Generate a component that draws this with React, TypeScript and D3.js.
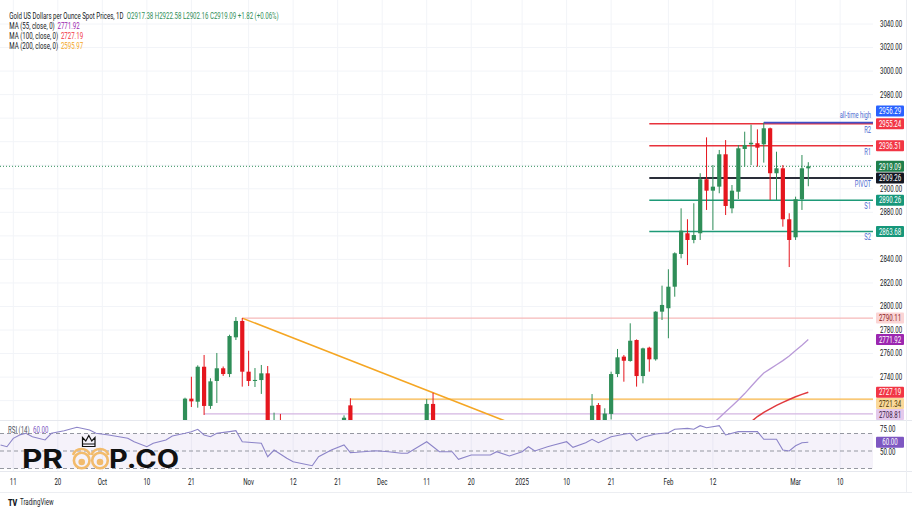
import React from "react";
import * as d3 from "d3";

// ---------- DATA ----------
const cIdx = [27,28,29,30,31,32,33,34,35,36,37,38,39,40,41,42,52,53,65,66,91,92,93,94,95,96,97,98,99,100,101,102,103,104,105,106,107,108,109,110,111,112,113,114,115,116,117,118,119,120,121,122,123,124,125];
const cOpen = [2693,2721.7,2719.1,2748.8,2715.5,2736.7,2747.5,2742.6,2773.8,2787.7,2744.6,2736.7,2737.5,2743.2,2660,2702,2672,2716,2695,2717.2,2697,2716.3,2702,2708.7,2742.6,2757.4,2753.7,2771.5,2740.9,2765,2755.1,2795.6,2798.5,2816.8,2844.6,2862.2,2856.5,2862.2,2908.1,2898.4,2901.8,2929.3,2883.4,2897.5,2933.8,2937.8,2938.7,2937.8,2951.4,2913.2,2917.4,2874.1,2858.8,2891.1,2917.38];
const cHigh = [2722.5,2740.3,2750,2758.8,2739,2760.5,2749,2776,2791,2790.2,2762.4,2747.7,2750.3,2749.4,2709.8,2708.7,2707.5,2722,2721.3,2726.7,2725.6,2718,2713.5,2744.6,2763.9,2758.8,2785.7,2772,2765,2765.8,2796,2817.7,2831.6,2846,2883.4,2874.1,2887.7,2913.2,2943.7,2920.2,2933,2941.4,2903.2,2937.2,2948.5,2954.5,2950.5,2956.29,2952,2931.5,2920.2,2879.2,2893.3,2928.7,2922.58];
const cLow = [2689,2714.6,2714,2707.8,2713,2718,2741,2740,2771.5,2731.9,2732.4,2731.6,2725.7,2652,2654,2680,2667,2605,2690,2676,2689,2697,2699,2704,2740,2736.1,2753.1,2731.9,2734.7,2744.6,2754,2788.5,2773,2808.3,2840.9,2835.2,2853.7,2856.5,2882,2865,2896.2,2877.7,2879.2,2891.3,2918.8,2920.2,2918.8,2922.2,2890.5,2890.5,2867.8,2833.5,2856.5,2882,2902.16];
const cClose = [2721.7,2719.4,2748.8,2715.5,2736.4,2747.5,2742.6,2774.9,2787.7,2744.6,2736.7,2737.6,2743.2,2660,2685,2684,2705.5,2626,2717.2,2680,2715.7,2701,2709,2742.6,2756.8,2753.9,2770.9,2740.9,2764.4,2755.1,2795.6,2801.3,2816.8,2845.2,2864.4,2856.5,2860.7,2908.1,2898.4,2901.8,2929.3,2885.4,2898.4,2934.4,2937.2,2939.1,2934.9,2951.4,2913.2,2917.4,2874.1,2856.5,2891.1,2917.4,2919.09];

const ma55Idx = [110,111,112,113,114,115,116,117,118,119,120,121,122,123,124,125];
const ma55Val = [2700.5,2705.5,2710.5,2715.5,2720.5,2726,2732,2738,2743.5,2747,2750.5,2754,2758,2762.5,2767,2771.92];
const ma100Idx = [116,117,118,119,120,121,122,123,124,125];
const ma100Val = [2702,2706.5,2710,2713,2716,2718.5,2721,2723.3,2725.3,2727.19];

const rsiIdx = [-2,-1,0,1,2,3,5,6,8,10,12,13,15,18,19,21,22,24,25,27,28,29,30,31,32,34,35,36,38,39,40,41,43,44,47,48,50,52,53,54,57,59,61,62,65,67,69,70,72,73,75,76,78,80,81,82,84,85,87,88,90,91,92,94,96,97,98,99,101,103,104,106,107,108,109,111,112,114,116,117,118,120,121,122,123,124,125];
const rsiVal = [56.9,54.9,64.5,68.3,70.2,66.3,62.6,70.2,73.2,77.1,74,70.2,68.3,64.5,60.6,54.9,58.8,62.6,67.1,70.2,72.1,74.8,68.3,66.3,70.2,72.1,73.2,60.6,59.5,58.8,43.5,51.1,41.7,37.8,33.2,43.5,51.1,56.9,48.1,48.5,50.3,49.2,47.4,47.4,60.6,49.2,49.2,40.5,45.4,45.4,45.4,49.2,44.3,49.2,54.9,50,54.9,56.9,60.6,54.2,59.5,63.4,59.5,66.3,69.1,70.2,61.8,65.7,69.4,70.9,74.8,75.9,74.8,78.9,76.6,78.9,68.3,72.1,72.1,72.1,63.4,63.4,51.1,50,56,59.5,60];

const tickIdx = [0,7,14,21,28,37,44,51,58,65,72,80,87,94,103,110,123,130];
const tickLabels = ["11","20","Oct","10","21","Nov","12","21","Dec","11","20","2025","10","21","Feb","12","Mar","10"];
const priceTicks = [2720,2740,2760,2780,2800,2820,2840,2860,2880,2900,2920,2940,2960,2980,3000,3020,3040];

const levelNames = ["R2","R1","PIVOT","S1","S2"];
const levelValues = [2955.24,2936.51,2909.26,2890.26,2863.68];
const levelColors = ["#e8323c","#e8323c","#2a2e39","#1e9a78","#1e9a78"];
const levelStart = 100;
const athValue = 2956.29;
const athStart = 118;
const lastPrice = 2919.09;
const pinkLevel = { start: 36, value: 2790.11 };
const orangeLevel = { start: 53, value: 2721.34 };
const lilacLevel = { start: 30, value: 2708.81 };
const trendA = { i: 36, v: 2790.11 };
const trendB = { i: 66, v: 2726.7 };

// ---------- LAYOUT ----------
const W = 912, H = 513;
const PR = 873; // pane right
const MAIN_B = 420;
const RSI_T = 421, RSI_B = 471;
const GREEN = "#2f8e58", RED = "#e5161e";
const SX = 0.68;

const x = d3.scaleLinear().domain([0, 125]).range([13.3, 808.3]);
const y = d3.scaleLinear().domain([2740, 3040]).range([377.1, 24]);
const yR = d3.scaleLinear().domain([30, 70]).range([468.5, 433.5]);

function T({ x, y, children, anchor = "start", size = 9, fill = "#131722", sx = SX, weight = 400 }: any) {
  return (
    <text transform={`translate(${x},${y}) scale(${sx},1)`} textAnchor={anchor} fontSize={size}
      fill={fill} fontWeight={weight} dominantBaseline="central" fontFamily="Roboto, 'Noto Sans', sans-serif">
      {children}
    </text>
  );
}

function Box({ cy, bg, fg, label }: any) {
  return (
    <g>
      <rect x={876} y={cy - 5.5} width={28} height={11} fill={bg} rx={1} />
      <T x={890} y={cy + 0.3} anchor="middle" fill={fg} size={9}>{label}</T>
    </g>
  );
}

export default function App() {
  const candles = cIdx.map((i, k) => ({ i, o: cOpen[k], h: cHigh[k], l: cLow[k], c: cClose[k] }));
  const ma55 = d3.line<number>().x((_, k) => x(ma55Idx[k])).y((d) => y(d))(ma55Val) || "";
  const ma100 = d3.line<number>().x((_, k) => x(ma100Idx[k])).y((d) => y(d))(ma100Val) || "";
  const rsiPath = d3.line<number>().x((_, k) => x(rsiIdx[k])).y((d) => yR(d))(rsiVal) || "";
  const slope = (trendB.v - trendA.v) / (trendB.i - trendA.i);
  const trendEndI = 82;
  const bw = 4.2;

  const boxCenters = [111, 123.8, y(2936.51), y(lastPrice), y(2909.26), y(2890.26), y(2863.68), y(2790.11), y(2771.92), y(2727.19), 403.5, 414.5];
  const visibleTicks = priceTicks.filter((p) => boxCenters.every((c) => Math.abs(c - y(p)) > 9));

  return (
    <svg width={W} height={H} style={{ position: "absolute", left: 0, top: 0, background: "#fff" }}
      xmlns="http://www.w3.org/2000/svg">
      <defs>
        <clipPath id="mainClip"><rect x={0} y={0} width={PR} height={MAIN_B} /></clipPath>
        <clipPath id="rsiClip"><rect x={0} y={RSI_T} width={PR} height={RSI_B - RSI_T} /></clipPath>
      </defs>
      <rect x={0} y={0} width={W} height={H} fill="#fff" />

      {/* grid */}
      {tickIdx.map((t, k) => (
        <line key={"vg" + k} x1={x(t)} x2={x(t)} y1={0} y2={RSI_B} stroke="#f2f4f8" strokeWidth={1} />
      ))}
      {priceTicks.map((p) => (
        <line key={"hg" + p} x1={0} x2={PR} y1={y(p)} y2={y(p)} stroke="#f2f4f8" strokeWidth={1} />
      ))}

      {/* main pane */}
      <g clipPath="url(#mainClip)">
        <line x1={x(pinkLevel.start)} x2={PR} y1={y(pinkLevel.value)} y2={y(pinkLevel.value)} stroke="#f6b9b9" strokeWidth={1.2} />
        <line x1={x(orangeLevel.start)} x2={PR} y1={y(orangeLevel.value)} y2={y(orangeLevel.value)} stroke="#f7b648" strokeWidth={1.3} />
        <line x1={x(lilacLevel.start)} x2={PR} y1={y(lilacLevel.value)} y2={y(lilacLevel.value)} stroke="#d4b6e2" strokeWidth={1.3} />
        <line x1={x(trendA.i)} y1={y(trendA.v)} x2={x(trendEndI)} y2={y(trendA.v + slope * (trendEndI - trendA.i))}
          stroke="#f5a623" strokeWidth={1.6} />
        <line x1={0} x2={PR} y1={y(lastPrice)} y2={y(lastPrice)} stroke="#2f8e58" strokeWidth={1} strokeDasharray="1,2" />
        {levelValues.map((v, k) => (
          <line key={"lv" + k} x1={x(levelStart)} x2={PR} y1={y(v)} y2={y(v)} stroke={levelColors[k]}
            strokeWidth={levelNames[k] === "PIVOT" ? 2 : 1.5} />
        ))}
        <line x1={x(athStart)} x2={PR} y1={y(athValue)} y2={y(athValue)} stroke="#3f51c8" strokeWidth={1.8} />

        <path d={ma55} fill="none" stroke="#b99ad8" strokeWidth={1.3} />
        <path d={ma100} fill="none" stroke="#e0393e" strokeWidth={1.5} />

        {candles.map((d) => {
          const col = d.c >= d.o ? GREEN : RED;
          const top = y(Math.max(d.o, d.c));
          const bot = y(Math.min(d.o, d.c));
          return (
            <g key={"c" + d.i}>
              <line x1={x(d.i)} x2={x(d.i)} y1={y(d.h)} y2={y(d.l)} stroke={col} strokeWidth={1} />
              <rect x={x(d.i) - bw / 2} y={top} width={bw} height={Math.max(1, bot - top)} fill={col} />
            </g>
          );
        })}
      </g>

      {/* level names */}
      <T x={871} y={115.5} anchor="end" fill="#4d6bd0" size={8.5}>all-time high</T>
      {levelNames.map((n, k) => (
        <T key={"ln" + k} x={871} y={y(levelValues[k]) + 6} anchor="end" fill="#4d6bd0" size={8.5}>{n}</T>
      ))}

      {/* pane separators */}
      <line x1={0} x2={W} y1={MAIN_B + 0.5} y2={MAIN_B + 0.5} stroke="#e6e8ee" />
      <line x1={0} x2={W} y1={RSI_B + 0.5} y2={RSI_B + 0.5} stroke="#e6e8ee" />
      <line x1={0} x2={W} y1={492.5} y2={492.5} stroke="#eceef2" />
      <line x1={906.5} x2={906.5} y1={0} y2={492} stroke="#eceef2" />

      {/* RSI pane */}
      <g clipPath="url(#rsiClip)">
        <rect x={0} y={yR(70)} width={PR} height={yR(30) - yR(70)} fill="#7e57c2" fillOpacity={0.08} />
        {[70, 50, 30].map((v) => (
          <line key={"rl" + v} x1={0} x2={PR} y1={yR(v)} y2={yR(v)} stroke="#9598a1" strokeWidth={1} strokeDasharray="4,3" />
        ))}
        <path d={rsiPath} fill="none" stroke="#8c84c8" strokeWidth={1.1} />
      </g>
      <text transform={`translate(8,429.5) scale(${SX},1)`} fontSize={9} dominantBaseline="central" fontFamily="Roboto, sans-serif">
        <tspan fill="#50535e">RSI (14)</tspan>
        <tspan fill="#7e57c2" dx={5}>60.00</tspan>
      </text>

      {/* watermark logo */}
      <g>
        <text x={22} y={468} fontSize={25} fontWeight={700} fontFamily="Inter, 'Open Sans', sans-serif" fill="#111"
          textLength={41} lengthAdjust="spacingAndGlyphs">PR</text>
        <path d="M73,455 A9,9 0 0 1 90,455" fill="none" stroke="#f2bb6c" strokeWidth={2.4} />
        <path d="M91.5,455 A9,9 0 0 1 108.5,455" fill="none" stroke="#f2bb6c" strokeWidth={2.4} />
        <circle cx={81.7} cy={460.5} r={7.8} fill="none" stroke="#f2bb6c" strokeWidth={2.6} />
        <circle cx={100} cy={460.5} r={7.8} fill="none" stroke="#f2bb6c" strokeWidth={2.6} />
        <circle cx={81.7} cy={462} r={3.3} fill="#f2bb6c" />
        <circle cx={100} cy={462} r={3.3} fill="#f2bb6c" />
        <path d="M82.5,446.5 L82.5,437.5 L85.8,441 L88.8,435.5 L91.8,441 L95,437.5 L95,446.5 Z" fill="none" stroke="#111" strokeWidth={1.2} />
        <line x1={82.5} x2={95} y1={444} y2={444} stroke="#111" strokeWidth={1} />
        <text x={109} y={468} fontSize={25} fontWeight={700} fontFamily="Inter, 'Open Sans', sans-serif" fill="#111"
          textLength={70} lengthAdjust="spacingAndGlyphs">P.CO</text>
      </g>

      {/* price axis */}
      {visibleTicks.map((p) => (
        <T key={"pt" + p} x={880} y={y(p)} fill="#131722" size={9}>{p.toFixed(2)}</T>
      ))}
      <T x={880} y={yR(75)} size={9}>75.00</T>
      <T x={880} y={452.5} size={9}>50.00</T>

      {/* axis boxes */}
      <Box cy={111} bg="#2962ff" fg="#fff" label="2956.29" />
      <Box cy={123.8} bg="#f23645" fg="#fff" label="2955.24" />
      <Box cy={y(2936.51)} bg="#f23645" fg="#fff" label="2936.51" />
      <Box cy={y(lastPrice)} bg="#1f7f4c" fg="#fff" label="2919.09" />
      <Box cy={y(2909.26)} bg="#131722" fg="#fff" label="2909.26" />
      <Box cy={y(2890.26)} bg="#16977a" fg="#fff" label="2890.26" />
      <Box cy={y(2863.68)} bg="#16977a" fg="#fff" label="2863.68" />
      <Box cy={y(2790.11)} bg="#fbd5d5" fg="#8b1a1a" label="2790.11" />
      <Box cy={y(2771.92)} bg="#9c27b0" fg="#fff" label="2771.92" />
      <Box cy={y(2727.19)} bg="#f23645" fg="#fff" label="2727.19" />
      <Box cy={403.5} bg="#fbd99a" fg="#4a3500" label="2721.34" />
      <Box cy={414.5} bg="#e4c9ec" fg="#3a2145" label="2708.81" />
      <Box cy={yR(60)} bg="#7e57c2" fg="#fff" label="60.00" />

      {/* time axis */}
      {tickIdx.map((t, k) => (
        <T key={"tl" + k} x={x(t)} y={482} anchor="middle" size={9}>{tickLabels[k]}</T>
      ))}

      {/* legend */}
      <text transform={`translate(9.3,15) scale(${SX},1)`} fontSize={9} dominantBaseline="central" fontFamily="Roboto, sans-serif">
        <tspan fill="#131722">Gold US Dollars per Ounce Spot Prices, 1D</tspan>
        <tspan fill={GREEN} dx={5}>O2917.38 H2922.58 L2902.16 C2919.09 +1.82 (+0.06%)</tspan>
      </text>
      <text transform={`translate(9.3,25.5) scale(${SX},1)`} fontSize={9} dominantBaseline="central" fontFamily="Roboto, sans-serif">
        <tspan fill="#131722">MA (55, close, 0)</tspan>
        <tspan fill="#9c27b0" dx={4}>2771.92</tspan>
      </text>
      <text transform={`translate(9.3,35.5) scale(${SX},1)`} fontSize={9} dominantBaseline="central" fontFamily="Roboto, sans-serif">
        <tspan fill="#131722">MA (100, close, 0)</tspan>
        <tspan fill="#f23645" dx={4}>2727.19</tspan>
      </text>
      <text transform={`translate(9.3,45.7) scale(${SX},1)`} fontSize={9} dominantBaseline="central" fontFamily="Roboto, sans-serif">
        <tspan fill="#131722">MA (200, close, 0)</tspan>
        <tspan fill="#f5a623" dx={4}>2595.97</tspan>
      </text>

      {/* TradingView footer */}
      <text transform={`translate(8,502.5) scale(0.8,1)`} fontSize={9} fontWeight={900} dominantBaseline="central" fontFamily="Roboto, sans-serif" fill="#131722">TV</text>
      <T x={20} y={502.5} size={8.5} sx={0.72}>TradingView</T>
    </svg>
  );
}
